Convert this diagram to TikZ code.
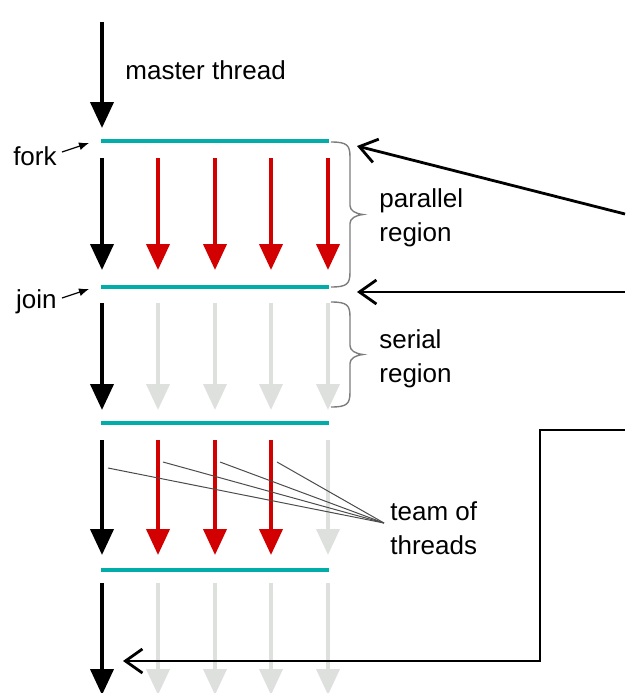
\documentclass[tikz,border=0pt]{standalone}
\usepackage{fontspec}
\setmainfont{Liberation Sans}
\usetikzlibrary{arrows.meta}
\definecolor{lagoon}{RGB}{0,173,168}
\definecolor{crimson}{RGB}{210,0,0}
\definecolor{mist}{RGB}{222,224,222}
\definecolor{slate}{RGB}{125,125,125}
\tikzset{
  master/.style={-{Triangle[length=13pt,width=11.5pt]},line width=2pt,draw=black},
  worker/.style={master,draw=crimson},
  idle/.style={master,draw=mist},
  bar/.style={line width=2pt,draw=lagoon},
  region/.style={draw=slate,line width=0.7pt},
  pointer/.style={-{Straight Barb[length=8.5pt,width=12pt]},line width=1.4pt},
  smallarrow/.style={-{Latex[length=5pt,width=4pt]},line width=0.6pt},
  strand/.style={draw=black!70,line width=0.5pt},
  txt/.style={font=\fontsize{13}{17}\selectfont,align=left,inner sep=0pt}
}
\begin{document}
\begin{tikzpicture}[x=0.5pt,y=-0.5pt]
  \useasboundingbox (0,0) rectangle (631,693);
  \clip (0,0) rectangle (631,693);

  \draw[master] (102,22) -- (102,128);
  \foreach \s/\t in {158/270,303/410,440/555,583/695}
    \draw[master] (102,\s) -- (102,\t);
  \foreach \x in {158,215,271,328} {
    \draw[worker] (\x,158) -- (\x,270);
    \draw[idle] (\x,303) -- (\x,410);
    \draw[idle] (\x,583) -- (\x,695);
  }
  \foreach \x in {158,215,271}
    \draw[worker] (\x,440) -- (\x,555);
  \draw[idle] (328,440) -- (328,555);

  \foreach \y [count=\i] in {141,287,423,570}
    \draw[bar] (101,\y) coordinate (b\i w) -- (329,\y) coordinate (b\i e);

  \node[txt,anchor=west] (mt) at (125,70) {master thread};
  \node[txt,anchor=east] (fork) at (57,156) {fork};
  \node[txt,anchor=east] (join) at (57,302) {join};
  \draw[smallarrow] ([shift={(5,-4)}]fork.east) -- ([shift={(-12,2)}]b1w);
  \draw[smallarrow] ([shift={(5,-4)}]join.east) -- ([shift={(-12,2)}]b2w);

  \foreach \t/\b in {142/287,302/407} {
    \pgfmathsetmacro\m{(\t+\b)/2}
    \draw[region] (331,\t) .. controls (347,\t) and (350,\t+3) .. (350,\t+15)
      -- (350,\m-9) .. controls (350,\m-4) and (355,\m-1) .. (363,\m)
      .. controls (355,\m+1) and (350,\m+4) .. (350,\m+9)
      -- (350,\b-15) .. controls (350,\b-3) and (347,\b) .. (331,\b);
  }
  \node[txt,anchor=west] (par) at (379,218) {parallel\\region};
  \node[txt,anchor=west] (ser) at (379,359) {serial\\region};
  \node[txt,anchor=west] (team) at (390,528) {team of\\threads};

  \coordinate (tm) at (384,523);
  \foreach \x/\y in {108/468,163/462,220/462,277/462}
    \draw[strand] (\x,\y) -- (tm);

  \coordinate (p1) at (625,214);
  \coordinate (p2) at (625,292);
  \coordinate (p3) at (625,430);
  \coordinate (ret) at (123,661);
  \draw[pointer] (p1) -- ([shift={(28,5)}]b1e);
  \draw[pointer] (p2) -- ([shift={(28,5)}]b2e);
  \draw[pointer] (p3) -- ++(-85,0) |- (ret);
\end{tikzpicture}
\end{document}
